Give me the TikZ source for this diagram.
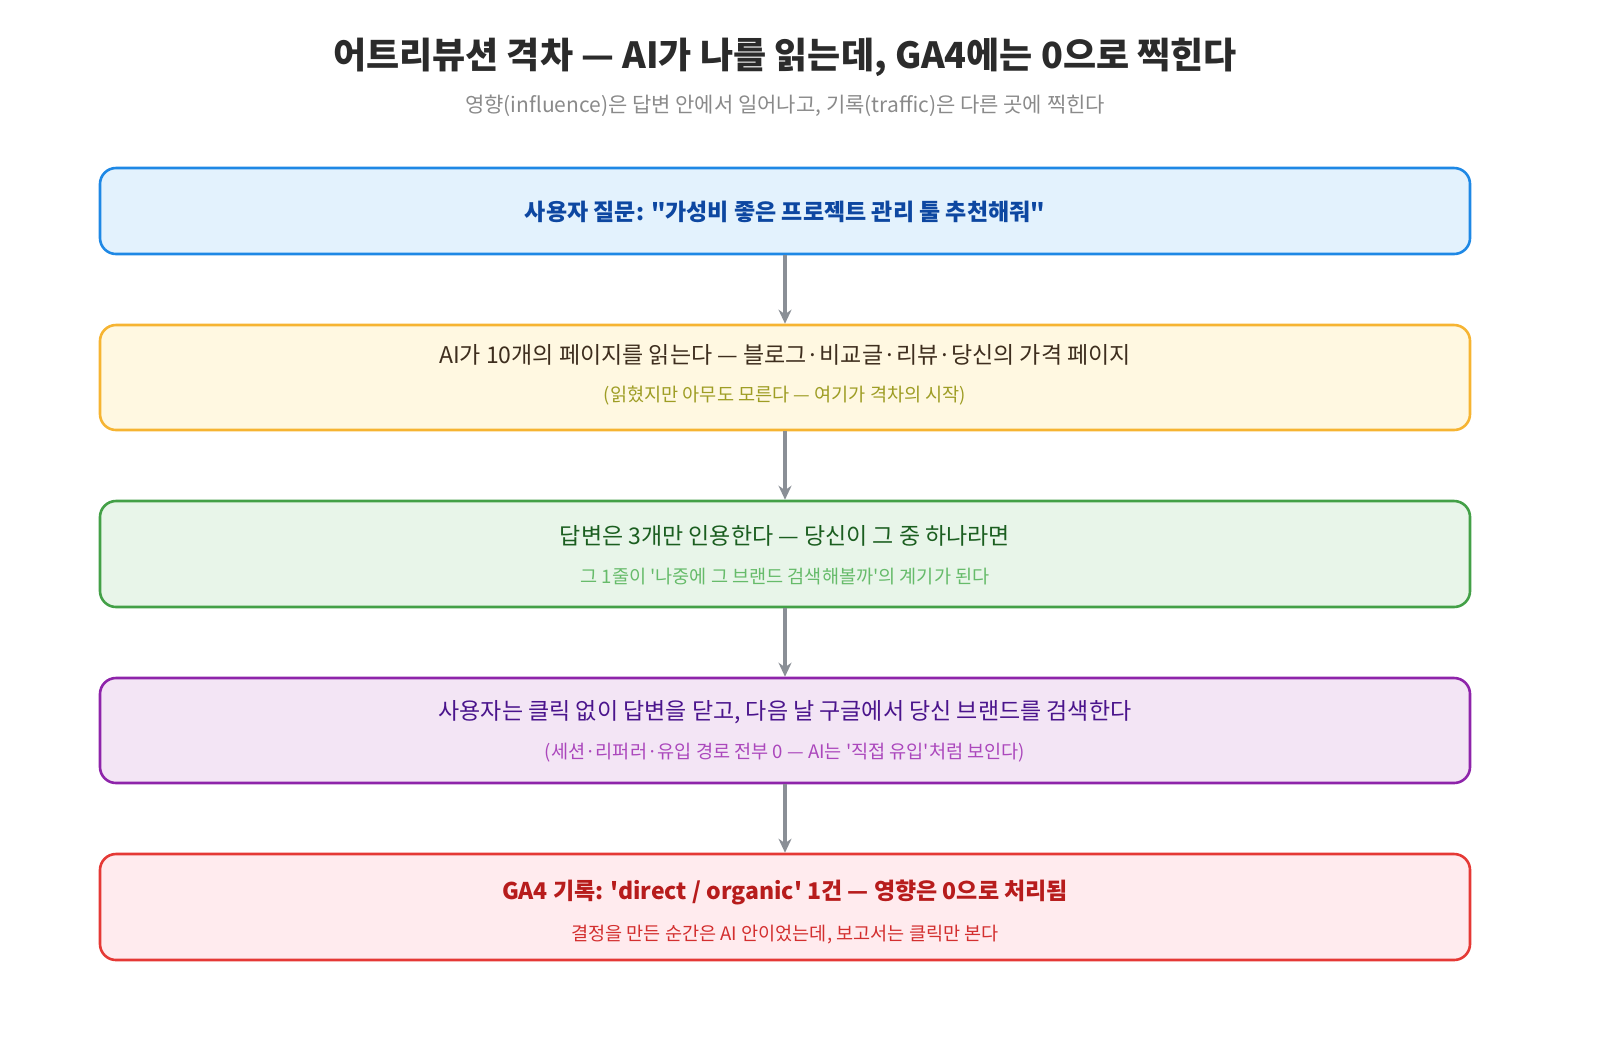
\documentclass[tikz,border=0pt]{standalone}
\usepackage{fontspec}
\setmainfont{Noto Sans CJK KR}[Ligatures=TeXOff]
\usetikzlibrary{arrows.meta, positioning}
\definecolor{ttl}{HTML}{2B2B2B}
\definecolor{sub}{HTML}{8A8A8A}
\definecolor{arr}{HTML}{8A8F96}
\tikzset{
    box/.style={draw, line width=1.3pt, rounded corners=8pt, minimum width=685pt, inner sep=0pt},
    main/.style={font=\fontsize{11.5}{13}\selectfont},
    note/.style={font=\fontsize{9.3}{11}\selectfont},
    flow/.style={draw=arr, line width=1.7pt, -{Stealth[length=7pt,width=6.5pt]}}
}
\begin{document}
\begin{tikzpicture}[x=0.5pt, y=-0.5pt]
    \useasboundingbox (0,0) rectangle (1600,1040);
    % title
    \node[text=ttl, font=\fontsize{18}{20}\selectfont\bfseries] (title) at (785,57) {어트리뷰션 격차 — AI가 나를 읽는데, GA4에는 0으로 찍힌다};
    \node[text=sub, font=\fontsize{10.5}{12}\selectfont] (subtitle) at (785,106) {영향(influence)은 답변 안에서 일어나고, 기록(traffic)은 다른 곳에 찍힌다};
    % boxes
    \node[box, draw={rgb,255:red,30;green,136;blue,229}, fill={rgb,255:red,227;green,242;blue,253}, minimum height=43pt] (q) at (785,211) {};
    \node[box, draw={rgb,255:red,246;green,180;blue,50}, fill={rgb,255:red,255;green,248;blue,225}, minimum height=52.5pt] (read) at (785,377.5) {};
    \node[box, draw={rgb,255:red,67;green,160;blue,71}, fill={rgb,255:red,232;green,245;blue,233}, minimum height=53pt] (cite) at (785,554) {};
    \node[box, draw={rgb,255:red,142;green,36;blue,170}, fill={rgb,255:red,243;green,229;blue,245}, minimum height=52.5pt] (user) at (785,730.5) {};
    \node[box, draw={rgb,255:red,229;green,57;blue,53}, fill={rgb,255:red,255;green,235;blue,238}, minimum height=53pt] (ga) at (785,907) {};
    % texts
    \node[main, font=\fontsize{11.5}{13}\selectfont\bfseries, text={rgb,255:red,13;green,71;blue,161}] at (785,212) {사용자 질문: "가성비 좋은 프로젝트 관리 툴 추천해줘"};
    \node[main, text={rgb,255:red,62;green,46;blue,30}] at (785,355) {AI가 10개의 페이지를 읽는다 — 블로그·비교글·리뷰·당신의 가격 페이지};
    \node[note, text={rgb,255:red,158;green,157;blue,36}] at (785,396) {(읽혔지만 아무도 모른다 — 여기가 격차의 시작)};
    \node[main, text={rgb,255:red,27;green,94;blue,32}] at (785,536) {답변은 3개만 인용한다 — 당신이 그 중 하나라면};
    \node[note, text={rgb,255:red,102;green,187;blue,106}] at (785,577) {그 1줄이 '나중에 그 브랜드 검색해볼까'의 계기가 된다};
    \node[main, text={rgb,255:red,74;green,20;blue,140}] at (785,712) {사용자는 클릭 없이 답변을 닫고, 다음 날 구글에서 당신 브랜드를 검색한다};
    \node[note, text={rgb,255:red,171;green,71;blue,188}] at (785,753) {(세션·리퍼러·유입 경로 전부 0 — AI는 '직접 유입'처럼 보인다)};
    \node[main, font=\fontsize{11.5}{13}\selectfont\bfseries, text={rgb,255:red,183;green,28;blue,28}] at (785,892) {GA4 기록: 'direct / organic' 1건 — 영향은 0으로 처리됨};
    \node[note, text={rgb,255:red,211;green,47;blue,47}] at (785,935) {결정을 만든 순간은 AI 안이었는데, 보고서는 클릭만 본다};
    % arrows
    \draw[flow] (q.south) -- (read.north);
    \draw[flow] (read.south) -- (cite.north);
    \draw[flow] (cite.south) -- (user.north);
    \draw[flow] (user.south) -- (ga.north);
\end{tikzpicture}
\end{document}
